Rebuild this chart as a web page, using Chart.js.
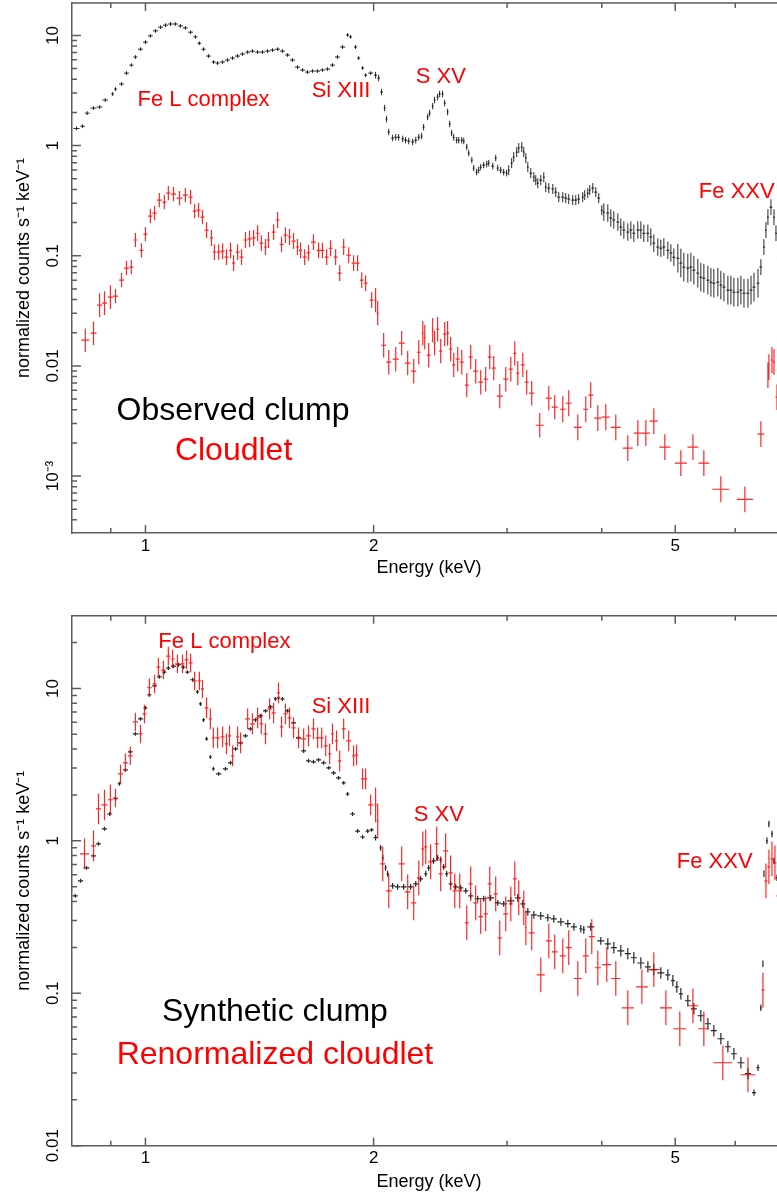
<!DOCTYPE html>
<html>
<head>
<meta charset="utf-8">
<script src="https://cdn.jsdelivr.net/npm/chart.js@4.4.1/dist/chart.umd.min.js"></script>
<style>
  html, body { margin: 0; padding: 0; background: #fff; overflow: hidden; }
  .panel { position: absolute; left: 0; width: 786px; }
  canvas { display: block; }
</style>
</head>
<body>
<div class="panel" style="top:0;height:600px"><canvas id="top-chart" width="786" height="600"></canvas></div>
<div class="panel" style="top:600px;height:597px"><canvas id="bottom-chart" width="786" height="597"></canvas></div>
<script>
// axis ranges and ticks
const energyRange = [0.8, 7];
const xTickVals = [1, 2, 5];
const xTickLabels = ['1', '2', '5'];
const xMinorVals = [0.9, 3, 4, 6, 7];

const topRange = [3.04e-4, 19.7];
const topYTicks = [0.001, 0.01, 0.1, 1, 10];
const topYLabels = ['10\u207B\u00B3', '0.01', '0.1', '1', '10'];
const botRange = [0.01, 30];
const botYTicks = [0.01, 0.1, 1, 10];
const botYLabels = ['0.01', '0.1', '1', '10'];

// top panel: observed clump (black)
const obsE = [
  0.811, 0.826, 0.838, 0.854, 0.870, 0.885, 0.905, 0.913, 0.930, 0.944,
  0.958, 0.970, 0.985, 1.000, 1.015, 1.031, 1.047, 1.063, 1.079, 1.095,
  1.112, 1.129, 1.147, 1.164, 1.178, 1.193, 1.211, 1.230, 1.245, 1.264,
  1.283, 1.303, 1.323, 1.343, 1.364, 1.384, 1.406, 1.427, 1.449, 1.471,
  1.494, 1.516, 1.540, 1.563, 1.587, 1.612, 1.636, 1.661, 1.687, 1.712,
  1.739, 1.765, 1.792, 1.820, 1.848, 1.865, 1.893, 1.911, 1.934, 1.952,
  1.982, 2.012, 2.031, 2.049, 2.068, 2.080, 2.094, 2.119, 2.139, 2.158,
  2.185, 2.204, 2.225, 2.252, 2.273, 2.294, 2.314, 2.328, 2.357, 2.371,
  2.393, 2.407, 2.429, 2.444, 2.466, 2.482, 2.504, 2.520, 2.535, 2.551,
  2.574, 2.590, 2.614, 2.630, 2.654, 2.670, 2.695, 2.711, 2.735, 2.752,
  2.769, 2.794, 2.820, 2.837, 2.872, 2.898, 2.916, 2.942, 2.969, 2.996,
  3.015, 3.042, 3.061, 3.089, 3.108, 3.137, 3.156, 3.176, 3.195, 3.224,
  3.254, 3.273, 3.293, 3.323, 3.354, 3.374, 3.405, 3.447, 3.478, 3.510,
  3.553, 3.585, 3.618, 3.662, 3.696, 3.729, 3.775, 3.798, 3.833, 3.856,
  3.892, 3.928, 3.963, 4.000, 4.025, 4.074, 4.111, 4.149, 4.200, 4.238,
  4.277, 4.329, 4.369, 4.409, 4.463, 4.504, 4.545, 4.601, 4.643, 4.685,
  4.742, 4.786, 4.830, 4.889, 4.934, 4.979, 5.040, 5.086, 5.132, 5.195,
  5.243, 5.291, 5.355, 5.404, 5.454, 5.521, 5.572, 5.622, 5.691, 5.743,
  5.797, 5.867, 5.921, 5.975, 6.049, 6.104, 6.161, 6.236, 6.294, 6.351,
  6.429, 6.486, 6.546, 6.586, 6.626, 6.687, 6.749, 6.790, 6.831
];
const obsN = [
  1.43, 1.50, 1.97, 2.19, 2.24, 2.59, 2.94, 3.26, 3.62, 4.55,
  5.38, 6.37, 7.50, 8.70, 9.90, 11.0, 11.9, 12.4, 12.7, 12.7,
  12.2, 11.7, 10.7, 9.70, 8.50, 7.50, 6.50, 5.73, 5.61, 5.73,
  5.98, 6.23, 6.50, 6.78, 7.06, 7.21, 7.06, 7.06, 7.21, 7.36,
  7.50, 7.21, 6.64, 5.98, 5.16, 4.85, 4.65, 4.75, 4.75, 4.85,
  4.95, 5.38, 6.37, 7.85, 10.1, 9.70, 7.85, 6.23, 5.06, 4.36,
  4.55, 4.36, 4.10, 3.06, 2.19, 1.74, 1.33, 1.17, 1.19, 1.19,
  1.15, 1.12, 1.10, 1.08, 1.12, 1.19, 1.22, 1.47, 1.82, 1.97,
  2.28, 2.59, 2.76, 2.94, 2.94, 2.43, 2.02, 1.57, 1.30, 1.19,
  1.12, 1.12, 1.12, 1.10, 0.970, 0.855, 0.738, 0.625, 0.574, 0.599,
  0.638, 0.665, 0.679, 0.693, 0.651, 0.770, 0.625, 0.599, 0.574, 0.562,
  0.599, 0.693, 0.787, 0.873, 0.950, 0.970, 0.873, 0.770, 0.638, 0.562,
  0.517, 0.486, 0.456, 0.486, 0.517, 0.420, 0.411, 0.403, 0.378, 0.340,
  0.340, 0.334, 0.327, 0.320, 0.320, 0.327, 0.340, 0.355, 0.370, 0.394,
  0.411, 0.378, 0.334, 0.259, 0.249, 0.244, 0.220, 0.211, 0.202, 0.182,
  0.171, 0.164, 0.171, 0.160, 0.171, 0.171, 0.160, 0.160, 0.148, 0.130,
  0.120, 0.117, 0.120, 0.112, 0.106, 0.097, 0.095, 0.0857, 0.0788, 0.0771,
  0.0788, 0.0740, 0.0695, 0.0639, 0.0625, 0.0600, 0.0575, 0.0563, 0.0575, 0.0541,
  0.0519, 0.0487, 0.0487, 0.0467, 0.0467, 0.0487, 0.0457, 0.0457, 0.0487, 0.0519,
  0.0563, 0.0788, 0.120, 0.171, 0.224, 0.276, 0.224, 0.160, 0.097
];
// [upper energy, relative error]
const obsErr = [[2.0, 0.04], [3.0, 0.07], [4.0, 0.11], [5.0, 0.2], [6.45, 0.35], [7, 0.18]];

// top panel: cloudlet (red)
const cloudE = [
  0.833, 0.854, 0.870, 0.883, 0.899, 0.913, 0.930, 0.944, 0.958, 0.970,
  0.988, 1.000, 1.015, 1.028, 1.043, 1.059, 1.072, 1.089, 1.109, 1.129,
  1.147, 1.161, 1.175, 1.189, 1.204, 1.222, 1.233, 1.249, 1.264, 1.279,
  1.295, 1.307, 1.323, 1.339, 1.355, 1.372, 1.389, 1.406, 1.422, 1.440,
  1.453, 1.476, 1.494, 1.512, 1.530, 1.549, 1.568, 1.587, 1.602, 1.622,
  1.641, 1.666, 1.692, 1.712, 1.734, 1.755, 1.782, 1.804, 1.826, 1.854,
  1.882, 1.905, 1.929, 1.952, 1.988, 2.012, 2.025, 2.062, 2.094, 2.139,
  2.178, 2.218, 2.259, 2.294, 2.322, 2.336, 2.364, 2.393, 2.407, 2.429,
  2.452, 2.482, 2.504, 2.527, 2.551, 2.582, 2.614, 2.654, 2.686, 2.727,
  2.769, 2.811, 2.846, 2.881, 2.934, 2.988, 3.034, 3.071, 3.099, 3.147,
  3.184, 3.233, 3.313, 3.405, 3.467, 3.553, 3.618, 3.719, 3.810, 3.868,
  3.952, 4.049, 4.174, 4.329, 4.463, 4.573, 4.685, 4.845, 5.086, 5.276,
  5.454, 5.743, 6.178, 6.486, 6.626, 6.646, 6.708, 6.749, 6.811
];
const cloudN = [
  0.0171, 0.0198, 0.0356, 0.0371, 0.0421, 0.0430, 0.0600, 0.0772, 0.0788, 0.139,
  0.112, 0.157, 0.229, 0.244, 0.320, 0.307, 0.370, 0.363, 0.334, 0.355,
  0.340, 0.254, 0.260, 0.224, 0.171, 0.145, 0.108, 0.108, 0.110, 0.0971,
  0.112, 0.0857, 0.108, 0.0971, 0.139, 0.142, 0.145, 0.160, 0.130, 0.120,
  0.139, 0.164, 0.211, 0.127, 0.154, 0.148, 0.136, 0.120, 0.112, 0.0971,
  0.106, 0.133, 0.112, 0.112, 0.0971, 0.117, 0.0971, 0.0695, 0.120, 0.101,
  0.0857, 0.0857, 0.0600, 0.0564, 0.0395, 0.0395, 0.0301, 0.0154, 0.0108, 0.0115,
  0.0161, 0.0106, 0.00895, 0.0133, 0.0198, 0.0182, 0.0125, 0.0211, 0.0161, 0.0215,
  0.0136, 0.0194, 0.0198, 0.0142, 0.0102, 0.0115, 0.0108, 0.00668, 0.0120, 0.00895,
  0.00711, 0.00757, 0.0120, 0.00953, 0.00531, 0.00757, 0.00933, 0.0130, 0.00859, 0.0102,
  0.00711, 0.00565, 0.00289, 0.00509, 0.00422, 0.00404, 0.00458, 0.00277, 0.00404, 0.00542,
  0.00335, 0.00342, 0.00277, 0.00179, 0.00245, 0.00245, 0.00315, 0.00183, 0.00131, 0.00183,
  0.00131, 0.000759, 0.000615, 0.00240, 0.00823, 0.00973, 0.0113, 0.0108, 0.0052
];
const cloudErr = [[0.9, 0.28], [1.2, 0.16], [2.0, 0.18], [3.5, 0.29], [7, 0.31]];

// bottom panel: synthetic clump (black)
const synthE = [
  0.808, 0.821, 0.836, 0.854, 0.867, 0.883, 0.897, 0.913, 0.924, 0.941,
  0.955, 0.970, 0.985, 1.000, 1.012, 1.028, 1.043, 1.059, 1.072, 1.089,
  1.106, 1.122, 1.136, 1.154, 1.171, 1.182, 1.193, 1.204, 1.218, 1.229,
  1.249, 1.275, 1.295, 1.315, 1.335, 1.355, 1.376, 1.397, 1.418, 1.440,
  1.462, 1.484, 1.498, 1.516, 1.540, 1.568, 1.592, 1.617, 1.641, 1.666,
  1.692, 1.718, 1.745, 1.771, 1.798, 1.826, 1.848, 1.876, 1.905, 1.934,
  1.964, 1.988, 2.012, 2.043, 2.056, 2.074, 2.087, 2.119, 2.151, 2.191,
  2.238, 2.273, 2.307, 2.343, 2.364, 2.400, 2.429, 2.452, 2.474, 2.497,
  2.527, 2.566, 2.606, 2.646, 2.686, 2.744, 2.794, 2.854, 2.916, 2.969,
  3.034, 3.099, 3.147, 3.195, 3.254, 3.323, 3.395, 3.457, 3.532, 3.608,
  3.675, 3.753, 3.787, 3.868, 3.988, 4.074, 4.149, 4.238, 4.329, 4.409,
  4.504, 4.601, 4.685, 4.786, 4.889, 4.964, 5.024, 5.086, 5.195, 5.291,
  5.404, 5.521, 5.622, 5.743, 5.867, 5.975, 6.104, 6.236, 6.351, 6.429,
  6.486, 6.526, 6.546, 6.606, 6.646, 6.708, 6.749, 6.811
];
const synthN = [
  0.436, 0.547, 0.665, 0.797, 0.956, 1.20, 1.50, 1.89, 2.37, 2.92,
  3.83, 5.03, 6.31, 7.45, 9.07, 10.4, 11.9, 12.8, 13.6, 14.0,
  14.3, 13.8, 12.8, 11.4, 9.49, 7.91, 6.21, 4.67, 3.55, 2.97,
  2.75, 2.97, 3.25, 4.01, 4.39, 4.88, 5.43, 6.21, 6.60, 7.12,
  7.56, 8.53, 8.66, 8.53, 7.12, 5.94, 4.74, 3.89, 3.35, 3.30,
  3.40, 3.25, 3.01, 2.79, 2.59, 2.40, 2.03, 1.50, 1.16, 1.06,
  1.16, 1.18, 1.05, 0.900, 0.774, 0.665, 0.608, 0.507, 0.499, 0.499,
  0.499, 0.522, 0.563, 0.608, 0.665, 0.739, 0.774, 0.751, 0.675, 0.608,
  0.522, 0.499, 0.492, 0.470, 0.436, 0.417, 0.417, 0.423, 0.392, 0.386,
  0.404, 0.423, 0.386, 0.342, 0.327, 0.322, 0.313, 0.308, 0.294, 0.286,
  0.273, 0.265, 0.261, 0.273, 0.221, 0.211, 0.199, 0.190, 0.182, 0.171,
  0.158, 0.149, 0.143, 0.136, 0.132, 0.121, 0.110, 0.0992, 0.0893, 0.0791,
  0.0712, 0.0631, 0.0568, 0.0503, 0.0446, 0.0401, 0.0350, 0.0297, 0.0223, 0.0325,
  0.0803, 0.156, 0.608, 1.00, 1.29, 1.11, 0.739, 0.572
];
const synthErr = [[2.0, 0.03], [3.0, 0.045], [4.0, 0.06], [6.3, 0.09], [7, 0.05]];

// bottom panel: renormalized cloudlet (red)
const renormE = [
  0.831, 0.854, 0.867, 0.883, 0.899, 0.913, 0.927, 0.941, 0.955, 0.970,
  0.985, 0.997, 1.012, 1.028, 1.040, 1.056, 1.072, 1.086, 1.102, 1.119,
  1.133, 1.147, 1.161, 1.178, 1.189, 1.204, 1.218, 1.229, 1.245, 1.264,
  1.279, 1.291, 1.303, 1.323, 1.335, 1.364, 1.384, 1.406, 1.422, 1.440,
  1.458, 1.476, 1.498, 1.512, 1.530, 1.549, 1.568, 1.592, 1.617, 1.641,
  1.666, 1.687, 1.708, 1.729, 1.750, 1.765, 1.787, 1.804, 1.826, 1.854,
  1.882, 1.899, 1.934, 1.952, 1.982, 2.012, 2.025, 2.056, 2.094, 2.178,
  2.218, 2.259, 2.294, 2.322, 2.343, 2.378, 2.422, 2.452, 2.489, 2.527,
  2.559, 2.598, 2.654, 2.686, 2.727, 2.769, 2.811, 2.846, 2.898, 2.934,
  2.988, 3.034, 3.071, 3.108, 3.156, 3.176, 3.233, 3.323, 3.405, 3.467,
  3.553, 3.618, 3.719, 3.810, 3.880, 3.952, 4.061, 4.174, 4.329, 4.518,
  4.685, 4.860, 5.070, 5.276, 5.454, 5.778, 6.236, 6.526, 6.586, 6.646,
  6.708, 6.769, 6.831
];
const renormN = [
  0.822, 0.927, 1.62, 1.72, 1.86, 1.91, 2.75, 3.25, 3.61, 6.03,
  5.03, 6.80, 10.1, 10.7, 13.8, 13.2, 16.3, 15.6, 14.5, 14.5,
  15.4, 14.7, 11.2, 11.2, 9.93, 7.45, 6.31, 4.74, 4.74, 4.81,
  4.33, 4.88, 3.61, 4.81, 4.39, 6.31, 5.85, 6.41, 5.85, 5.03,
  7.34, 6.91, 9.34, 5.59, 6.80, 6.41, 5.51, 4.74, 4.67, 4.88,
  5.43, 4.74, 4.74, 4.20, 3.72, 5.03, 4.53, 3.35, 5.43, 4.53,
  3.61, 3.66, 2.55, 2.55, 1.72, 1.72, 1.35, 0.707, 0.470, 0.707,
  0.463, 0.392, 0.572, 0.886, 0.913, 0.728, 0.956, 0.608, 0.860, 0.617,
  0.470, 0.470, 0.290, 0.522, 0.392, 0.318, 0.332, 0.522, 0.449, 0.231,
  0.332, 0.386, 0.563, 0.423, 0.364, 0.269, 0.249, 0.132, 0.221, 0.187,
  0.176, 0.199, 0.125, 0.176, 0.235, 0.147, 0.154, 0.125, 0.0803, 0.110,
  0.143, 0.0803, 0.0585, 0.0828, 0.0585, 0.0350, 0.0292, 0.105, 0.547, 0.675,
  0.762, 0.717, 0.436
];
const renormErr = [[0.9, 0.26], [1.2, 0.15], [2.0, 0.17], [7, 0.3]];

const red = 'rgba(255, 0, 0, 0.85)';
const black = 'rgba(0, 0, 0, 0.85)';
const axisColor = '#5c5c5c';
const fontFamily = "'Liberation Sans', Arial, Helvetica, sans-serif";

Chart.defaults.font.family = fontFamily;
Chart.defaults.color = '#000';

function errFor(e, band) {
  for (const b of band) if (e <= b[0]) return b[1];
  return band[band.length - 1][1];
}

// each bin spans half the smaller gap to its neighbours (in log E)
function spectrum(E, N, band) {
  return E.map((e, i) => {
    const le = Math.log10(e);
    const gl = i > 0 ? le - Math.log10(E[i - 1]) : Infinity;
    const gr = i < E.length - 1 ? Math.log10(E[i + 1]) - le : Infinity;
    const hw = Math.min(gl, gr) / 2;
    const err = errFor(e, band);
    return {
      x: e, y: N[i],
      xlo: Math.pow(10, le - hw), xhi: Math.pow(10, le + hw),
      ylo: N[i] / (1 + err), yhi: N[i] * (1 + err)
    };
  });
}

const errorCrosses = {
  id: 'errorCrosses',
  afterDatasetsDraw(chart) {
    const { ctx, chartArea: a, scales: { x, y } } = chart;
    ctx.save();
    ctx.beginPath();
    ctx.rect(a.left, a.top, a.right - a.left, a.bottom - a.top);
    ctx.clip();
    chart.data.datasets.forEach(ds => {
      ctx.strokeStyle = ds.borderColor;
      ctx.lineWidth = ds.borderWidth;
      ctx.beginPath();
      ds.data.forEach(p => {
        const px = x.getPixelForValue(p.x), py = y.getPixelForValue(p.y);
        ctx.moveTo(x.getPixelForValue(p.xlo), py);
        ctx.lineTo(x.getPixelForValue(p.xhi), py);
        ctx.moveTo(px, y.getPixelForValue(p.yhi));
        ctx.lineTo(px, y.getPixelForValue(p.ylo));
      });
      ctx.stroke();
    });
    ctx.restore();
  }
};

// inward ticks on all four sides plus top/right frame lines
const frameTicks = {
  id: 'frameTicks',
  afterDraw(chart) {
    const { ctx, chartArea: a, scales: { x, y } } = chart;
    ctx.save();
    ctx.strokeStyle = axisColor;
    ctx.lineWidth = 1.5;
    ctx.beginPath();
    ctx.moveTo(a.left, a.top); ctx.lineTo(a.right, a.top); ctx.lineTo(a.right, a.bottom);
    const xt = (v, len) => {
      if (v < x.min || v > x.max) return;
      const px = x.getPixelForValue(v);
      ctx.moveTo(px, a.bottom); ctx.lineTo(px, a.bottom - len);
      ctx.moveTo(px, a.top); ctx.lineTo(px, a.top + len);
    };
    const yt = (v, len) => {
      if (v < y.min || v > y.max) return;
      const py = y.getPixelForValue(v);
      ctx.moveTo(a.left, py); ctx.lineTo(a.left + len, py);
      ctx.moveTo(a.right, py); ctx.lineTo(a.right - len, py);
    };
    xTickVals.forEach(v => xt(v, 8));
    xMinorVals.forEach(v => xt(v, 5));
    for (let d = Math.floor(Math.log10(y.min)); d <= Math.ceil(Math.log10(y.max)); d++) {
      yt(Math.pow(10, d), 9);
      for (let k = 2; k <= 9; k++) yt(k * Math.pow(10, d), 5);
    }
    ctx.stroke();
    ctx.restore();
  }
};

function textPlugin(items) {
  return {
    id: 'lineLabels',
    afterDraw(chart) {
      const { ctx, scales: { x, y } } = chart;
      ctx.save();
      ctx.textBaseline = 'alphabetic';
      items.forEach(t => {
        ctx.font = t.size + 'px ' + fontFamily;
        ctx.fillStyle = t.color;
        ctx.textAlign = t.align;
        ctx.fillText(t.text, x.getPixelForValue(t.e), y.getPixelForValue(t.v));
      });
      ctx.restore();
    }
  };
}

const topTexts = [
  { text: 'Fe L complex', e: 0.976, v: 2.285, color: '#ff0000', size: 22, align: 'left' },
  { text: 'Si XIII', e: 1.657, v: 2.74, color: '#ff0000', size: 22, align: 'left' },
  { text: 'S XV', e: 2.273, v: 3.72, color: '#ff0000', size: 22, align: 'left' },
  { text: 'Fe XXV', e: 5.372, v: 0.3315, color: '#ff0000', size: 22, align: 'left' },
  { text: 'Observed clump', e: 1.305, v: 0.00321, color: '#000000', size: 32, align: 'center' },
  { text: 'Cloudlet', e: 1.307, v: 0.00139, color: '#ff0000', size: 32, align: 'center' }
];
const bottomTexts = [
  { text: 'Fe L complex', e: 1.040, v: 18.5, color: '#ff0000', size: 22, align: 'left' },
  { text: 'Si XIII', e: 1.657, v: 6.94, color: '#ff0000', size: 22, align: 'left' },
  { text: 'S XV', e: 2.259, v: 1.352, color: '#ff0000', size: 22, align: 'left' },
  { text: 'Fe XXV', e: 5.024, v: 0.668, color: '#ff0000', size: 22, align: 'left' },
  { text: 'Synthetic clump', e: 1.482, v: 0.066, color: '#000000', size: 32, align: 'center' },
  { text: 'Renormalized cloudlet', e: 1.482, v: 0.0343, color: '#ff0000', size: 32, align: 'center' }
];

function makeChart(id, cfg) {
  return new Chart(document.getElementById(id), {
    type: 'scatter',
    data: { datasets: cfg.datasets },
    options: {
      responsive: false,
      animation: false,
      devicePixelRatio: 1,
      events: [],
      layout: { autoPadding: false, padding: { top: cfg.padTop, right: 0, left: 0, bottom: 0 } },
      plugins: { legend: { display: false }, tooltip: { enabled: false } },
      elements: { point: { radius: 0 } },
      scales: {
        x: {
          type: 'logarithmic', position: 'bottom', bounds: 'data',
          min: energyRange[0], max: energyRange[1],
          grid: { display: false, drawTicks: false },
          border: { display: true, color: axisColor, width: 1.5 },
          afterBuildTicks: s => { s.ticks = xTickVals.map(v => ({ value: v })); },
          afterFit: s => {
            s.height = cfg.xAxisHeight;
            s.paddingLeft = 0; s.paddingRight = 0;
          },
          ticks: {
            autoSkip: false, minRotation: 0, maxRotation: 0, padding: cfg.xLabelPad,
            font: { size: 17 },
            callback: v => xTickLabels[xTickVals.indexOf(v)]
          },
          title: { display: true, text: 'Energy (keV)', font: { size: 18 }, padding: { top: 0, bottom: cfg.xTitlePad } }
        },
        y: {
          type: 'logarithmic', position: 'left', bounds: 'data',
          min: cfg.yRange[0], max: cfg.yRange[1],
          grid: { display: false, drawTicks: false },
          border: { display: true, color: axisColor, width: 1.5 },
          afterBuildTicks: s => { s.ticks = cfg.yTicks.map(v => ({ value: v })); },
          afterFit: s => {
            s.width = 72;
            s.paddingTop = 0; s.paddingBottom = 0;
          },
          ticks: {
            autoSkip: false, minRotation: 90, maxRotation: 90, crossAlign: 'center', padding: 2.5,
            font: { size: 17 },
            callback: v => cfg.yLabels[cfg.yTicks.indexOf(v)]
          },
          title: {
            display: true, text: 'normalized counts s\u207B\u00B9 keV\u207B\u00B9',
            font: { size: 18 }, padding: { top: 13, bottom: 0 }
          }
        }
      }
    },
    plugins: [errorCrosses, frameTicks, textPlugin(cfg.texts)]
  });
}

window.onload = function () {
  makeChart('top-chart', {
    padTop: 3, xAxisHeight: 67, xLabelPad: 3.5, xTitlePad: 21,
    yRange: topRange, yTicks: topYTicks, yLabels: topYLabels, texts: topTexts,
    datasets: [
      { label: 'Observed clump', data: spectrum(obsE, obsN, obsErr), borderColor: black, borderWidth: 1 },
      { label: 'Cloudlet', data: spectrum(cloudE, cloudN, cloudErr), borderColor: red, borderWidth: 1.2 }
    ]
  });
  makeChart('bottom-chart', {
    padTop: 15.7, xAxisHeight: 51.3, xLabelPad: 2.5, xTitlePad: 4,
    yRange: botRange, yTicks: botYTicks, yLabels: botYLabels, texts: bottomTexts,
    datasets: [
      { label: 'Synthetic clump', data: spectrum(synthE, synthN, synthErr), borderColor: black, borderWidth: 1.2 },
      { label: 'Renormalized cloudlet', data: spectrum(renormE, renormN, renormErr), borderColor: red, borderWidth: 1.2 }
    ]
  });
};
</script>
</body>
</html>
